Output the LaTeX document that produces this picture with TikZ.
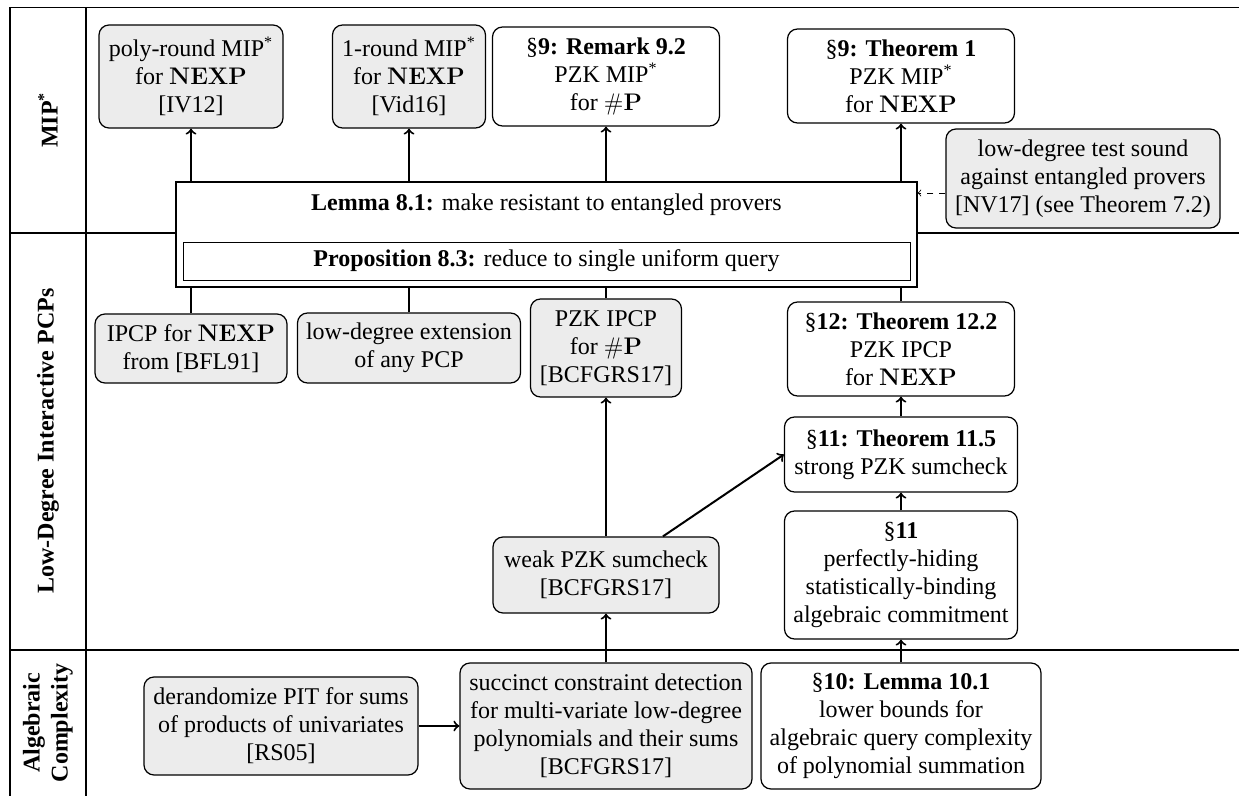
\documentclass[tikz,border=0pt]{standalone}
\usepackage[no-math]{fontspec}
\setmainfont{Liberation Serif}
\tikzset{
  box/.style={draw, rounded corners=5pt, align=center, inner sep=2pt, semithick},
  gbox/.style={box, fill=gray!15},
  flow/.style={->, line width=1pt},
  lane/.style={font=\fontsize{12}{14}\selectfont\bfseries, rotate=90, align=center},
}

\begin{document}
\begin{tikzpicture}[x=0.5pt, y=-0.5pt, every node/.style={font=\fontsize{12}{14}\selectfont}]
				\useasboundingbox (0,0) rectangle (1239,796);
				% lanes
				\draw[semithick] (1239,7.5) -- (10,7.5) -- (10,796);
				\draw[semithick] (86,7.5) -- (86,796);
				\draw[semithick] (10,233) -- (1239,233);
				\draw[semithick] (10,650) -- (1239,650);
				\node (lanemip)[lane] at (48,120) {MIP\textsuperscript{*}};
				\node (lanepcp)[lane] at (48,441) {Low-Degree Interactive PCPs};
				\node (lanealg)[lane] at (48,723) {Algebraic\\Complexity};
				%
				\node (poly)[gbox, minimum width=92pt, minimum height=51.5pt] at (191,76.5) {poly-round MIP\textsuperscript{*}\\for $\mathbf{NEXP}$\\{[IV12]}};
				\node (oneround)[gbox, minimum width=76.5pt, minimum height=51.5pt] at (409,76.5) {1-round MIP\textsuperscript{*}\\for $\mathbf{NEXP}$\\{[Vid16]}};
				\node (rem)[box, minimum width=113.5pt, minimum height=49.5pt] at (606,76.5) {\S\textbf{9: Remark 9.2}\\PZK MIP\textsuperscript{*}\\for $\#\mathbf{P}$};
				\node (thmone)[box, minimum width=113.5pt, minimum height=47pt] at (901,76) {\S\textbf{9: Theorem 1}\\PZK MIP\textsuperscript{*}\\for $\mathbf{NEXP}$};
				\node (ldtest)[gbox, minimum width=137pt, minimum height=49.5pt] at (1083,178.5) {low-degree test sound\\against entangled provers\\{[NV17]} (see Theorem 7.2)};
				%
				\node (ipcp)[gbox, minimum width=96pt, minimum height=34.5pt] at (191,348.5) {IPCP for $\mathbf{NEXP}$\\from [BFL91]};
				\node (lowext)[gbox, minimum width=111.5pt, minimum height=35pt] at (409,348) {low-degree extension\\of any PCP};
				\node (pzkipcp)[gbox, minimum width=75.5pt, minimum height=49pt] at (606,348) {PZK IPCP\\for $\#\mathbf{P}$\\{[BCFGRS17]}};
				\node (thmtwelve)[box, minimum width=113.5pt, minimum height=47pt] at (901,349) {\S\textbf{12: Theorem 12.2}\\PZK IPCP\\for $\mathbf{NEXP}$};
				\node (thmeleven)[box, minimum width=116.5pt, minimum height=37.5pt] at (901,454.5) {\S\textbf{11: Theorem 11.5}\\strong PZK sumcheck};
				\node (commit)[box, minimum width=116.5pt, minimum height=64pt] at (901,575) {\S\textbf{11}\\perfectly-hiding\\statistically-binding\\algebraic commitment};
				\node (weak)[gbox, minimum width=113pt, minimum height=38pt] at (606,575) {weak PZK sumcheck\\{[BCFGRS17]}};
				%
				\node (derand)[gbox, minimum width=137pt, minimum height=49pt] at (281,726) {derandomize PIT for sums\\of products of univariates\\{[RS05]}};
				\node (succinct)[gbox, minimum width=146pt, minimum height=63pt] at (606,726) {succinct constraint detection\\for multi-variate low-degree\\polynomials and their sums\\{[BCFGRS17]}};
				\node (lemten)[box, minimum width=140pt, minimum height=63pt] at (901,726) {\S\textbf{10: Lemma 10.1}\\lower bounds for\\algebraic query complexity\\of polynomial summation};
				%
				\draw[flow] (ipcp) -- (poly);
				\draw[flow] (lowext) -- (oneround);
				\draw[flow] (pzkipcp) -- (rem);
				\draw[flow] (thmtwelve) -- (thmone);
				\draw[flow] (weak) -- (pzkipcp);
				\draw[flow] (weak) -- (thmeleven.west);
				\draw[flow] (thmeleven) -- (thmtwelve);
				\draw[flow] (commit) -- (thmeleven);
				\draw[flow] (lemten) -- (commit);
				\draw[flow] (succinct) -- (weak);
				\draw[flow] (derand) -- (succinct);
				% the lemma box covers the arrows
				\node (lemma)[draw, fill=white, semithick, minimum width=370.5pt, minimum height=52.5pt] at (546.5,234.5) {};
				\node (lemmatxt) at (546.5,205) {\textbf{Lemma 8.1:} make resistant to entangled provers};
				\node (prop)[draw, fill=white, minimum width=363.5pt, minimum height=19pt] at (546.5,261) {\textbf{Proposition 8.3:} reduce to single uniform query};
				\draw[->, dashed] ([yshift=-7.25pt]ldtest.west) coordinate (dt) -- (dt -| lemma.east);
			\end{tikzpicture}
\end{document}
